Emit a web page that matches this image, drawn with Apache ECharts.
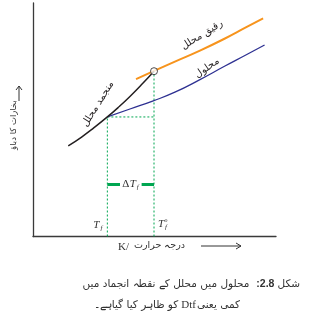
<!DOCTYPE html>
<html><head><meta charset="utf-8">
<script src="https://cdn.jsdelivr.net/npm/echarts@6/dist/echarts.min.js"></script>
<style>html,body{margin:0;padding:0;background:#fff}#c{width:319px;height:335px}</style>
</head><body><div id="c"></div>
<script>
// ---- data (arbitrary units) ----
const solidX = [1.45, 2.0, 2.5, 3.06, 3.5, 4.0, 4.5, 4.98];
const solidY = [3.88, 4.26, 4.65, 5.12, 5.52, 6.01, 6.54, 7.08];
const liquidX = [4.24, 4.96, 5.84, 6.87, 7.90, 8.72, 9.47];
const liquidY = [6.74, 7.08, 7.49, 7.96, 8.48, 8.93, 9.34];
const solutionX = [3.06, 3.99, 4.95, 5.84, 6.87, 7.90, 8.72, 9.53];
const solutionY = [5.12, 5.46, 5.81, 6.18, 6.72, 7.30, 7.75, 8.20];
const Tf = 3.06, Tf0 = 4.98;          // freezing points
const pTf = 5.12, pTf0 = 7.08;        // vapour pressures at those points
const barY = 2.23, barInnerL = 3.58, barInnerR = 4.47;

const labels = {
  liquid: 'رقیق محلل', solution: 'محلول', solid: 'منجمد محلل',
  yName: 'بخارات کا دباؤ', xName: 'درجہ حرارت', xUnit: 'K/',
  cap1a: 'شکل', cap1b: '2.8', cap1c: ':', cap1d: 'محلول میں محلل کے نقطہ انجماد میں',
  cap2a: 'کمی یعنی', cap2b: 'Dtf', cap2c: 'کو ظاہر کیا گیاہے۔'
};

const zip = (xs, ys) => xs.map((x, i) => [x, ys[i]]);
const URDU = '"DejaVu Sans", sans-serif';
const SERIF = '"Liberation Serif", "DejaVu Serif", serif';
const GREEN = '#00a651', ORANGE = '#f7941d', BLUE = '#2e3192', BLACK = '#231f20';

const chart = echarts.init(document.getElementById('c'), null, {renderer: 'canvas'});
const dash = {color: GREEN, width: 1, type: [2, 2]};
chart.setOption({
  animation: false,
  grid: {left: 33, top: 3, width: 243, height: 233.5},
  xAxis: {type: 'value', min: 0, max: 10, axisLine: {show: true, onZero: false, lineStyle: {color: '#3a3a3a', width: 1.3}},
    axisTick: {show: false}, axisLabel: {show: false}, splitLine: {show: false}},
  yAxis: {type: 'value', min: 0, max: 10, axisLine: {show: true, onZero: false, lineStyle: {color: '#3a3a3a', width: 1.3}},
    axisTick: {show: false}, axisLabel: {show: false}, splitLine: {show: false}},
  series: [
    {type: 'line', data: [[Tf, 0], [Tf, pTf]], symbol: 'none', lineStyle: dash, z: 1},
    {type: 'line', data: [[Tf0, 0], [Tf0, pTf0]], symbol: 'none', lineStyle: dash, z: 1},
    {type: 'line', data: [[Tf, pTf], [Tf0, pTf]], symbol: 'none', lineStyle: dash, z: 1},
    {type: 'line', data: [[Tf, barY], [barInnerL, barY]], symbol: 'none', lineStyle: {color: GREEN, width: 3}, z: 1},
    {type: 'line', data: [[barInnerR, barY], [Tf0, barY]], symbol: 'none', lineStyle: {color: GREEN, width: 3}, z: 1},
    {type: 'line', data: zip(liquidX, liquidY), smooth: true, symbol: 'none', lineStyle: {color: ORANGE, width: 2}, z: 2},
    {type: 'line', data: zip(solutionX, solutionY), smooth: true, symbol: 'none', lineStyle: {color: BLUE, width: 1.3}, z: 2},
    {type: 'line', data: zip(solidX, solidY), smooth: true, symbol: 'none', lineStyle: {color: BLACK, width: 1.5}, z: 3},
    {type: 'scatter', data: [[Tf0, pTf0]], symbol: 'circle', symbolSize: 7,
      itemStyle: {color: '#fff', borderColor: BLACK, borderWidth: 1}, z: 4}
  ]
});

const P = (x, y) => chart.convertToPixel({gridIndex: 0}, [x, y]);
const M = document.createElement('canvas').getContext('2d');
const tw = (t, f) => { M.font = f; return M.measureText(t).width; };
function txt(text, x, y, font, opts) {
  opts = opts || {};
  return {type: 'text', x, y, rotation: opts.rot || 0, z: 10,
    style: {text, font, fill: opts.fill || BLACK, align: opts.align || 'center', verticalAlign: opts.va || 'middle'}};
}
function rtl(pieces, right, y) {
  const out = []; let x = right;
  pieces.forEach(p => {
    x -= p.gap || 0;
    out.push(txt(p.text, x, y, p.font, {align: 'right', fill: '#333'}));
    x -= tw(p.text, p.font);
  });
  return out;
}
const g = [];
const deg = d => d * Math.PI / 180;
// curve labels
g.push(txt(labels.liquid, 202, 35, '10px ' + URDU, {rot: deg(32)}));
g.push(txt(labels.solution, 207, 68, '10px ' + URDU, {rot: deg(35)}));
g.push(txt(labels.solid, 98, 104, '10px ' + URDU, {rot: deg(58)}));
// T labels
const a = P(Tf, 0), b = P(Tf0, 0), c = P((Tf + Tf0) / 2, barY);
const TF = 'italic 11px ' + SERIF, SUB = 'italic 7px ' + SERIF;
g.push(txt('T', a[0] - 11, a[1] - 11, TF, {fill: '#333'}));
g.push(txt('f', a[0] - 6, a[1] - 8, SUB, {fill: '#333'}));
g.push(txt('T', b[0] + 7, b[1] - 12, TF, {fill: '#333'}));
g.push(txt('f', b[0] + 12, b[1] - 9, SUB, {fill: '#333'}));
g.push(txt('o', b[0] + 12, b[1] - 16, '6px ' + SERIF, {fill: '#333'}));
g.push(txt('Δ', c[0] - 5, c[1], '11px ' + SERIF, {fill: '#333'}));
g.push(txt('T', c[0] + 2, c[1], TF, {fill: '#333'}));
g.push(txt('f', c[0] + 7, c[1] + 3, SUB, {fill: '#333'}));
// y axis title + arrow
g.push(txt(labels.yName, 14, 125, '8.5px ' + URDU, {rot: deg(90), fill: '#333'}));
g.push({type: 'line', shape: {x1: 19, y1: 101, x2: 19, y2: 86}, style: {stroke: '#333', lineWidth: 1}});
g.push({type: 'polyline', shape: {points: [[16, 90], [19, 86], [22, 90]]}, style: {stroke: '#333', lineWidth: 1, fill: null}});
// x axis title + arrow
g.push(txt(labels.xUnit, 118, 247, '11px ' + SERIF, {align: 'left', fill: '#333'}));
g.push(txt(labels.xName, 134, 246, '9.5px ' + URDU, {align: 'left', fill: '#333'}));
g.push({type: 'line', shape: {x1: 201, y1: 246, x2: 241, y2: 246}, style: {stroke: '#333', lineWidth: 1}});
g.push({type: 'polyline', shape: {points: [[236, 243], [241, 246], [236, 249]]}, style: {stroke: '#333', lineWidth: 1, fill: null}});
// caption
const CF = '10.5px ' + URDU, CB = 'bold 10.5px "Liberation Sans", sans-serif';
rtl([{text: labels.cap1a, font: CF}, {text: labels.cap1b, font: CB, gap: 3}, {text: labels.cap1c, font: CB},
     {text: labels.cap1d, font: CF, gap: 7}], 300, 284).forEach(e => g.push(e));
rtl([{text: labels.cap2a, font: CF}, {text: labels.cap2b, font: '11px ' + SERIF, gap: 1},
     {text: labels.cap2c, font: CF, gap: 3}], 240, 305).forEach(e => g.push(e));
chart.setOption({graphic: g});
</script></body></html>
